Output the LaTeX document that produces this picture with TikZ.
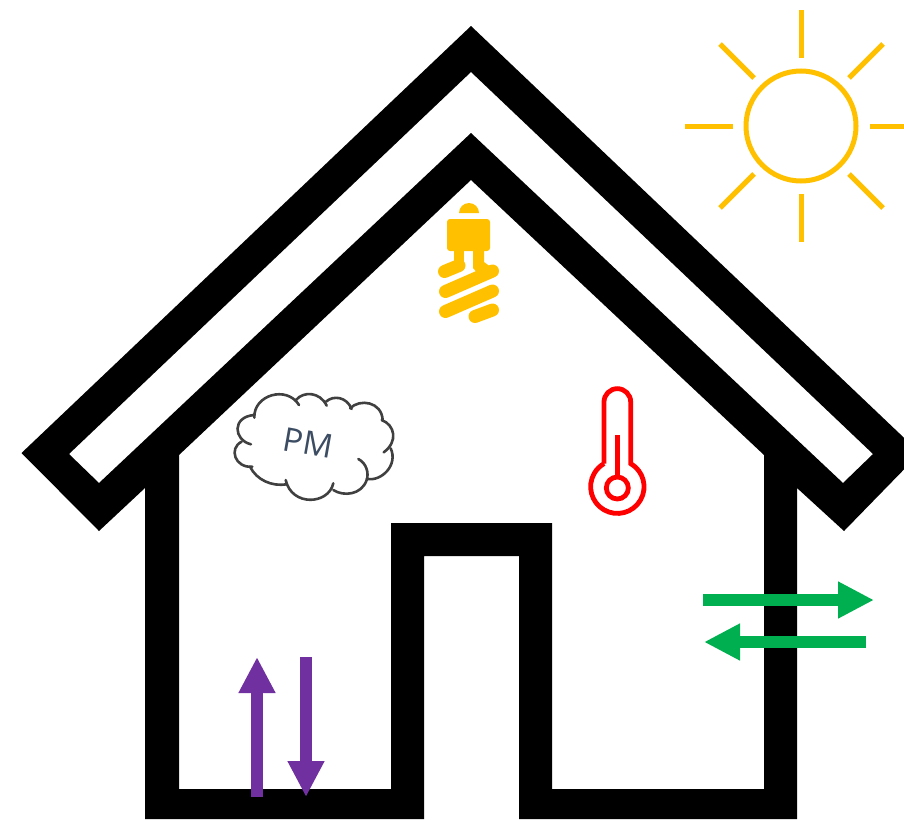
\documentclass[tikz,border=0pt]{standalone}
\usepackage{fontspec}
\setsansfont{Open Sans}
\usetikzlibrary{arrows.meta}
\definecolor{hssun}   {HTML}{FFC000}
\definecolor{hsflow}  {HTML}{00B050}
\definecolor{hsvent}  {HTML}{7030A0}
\definecolor{hstemp}  {HTML}{FF0000}
\definecolor{hscloud} {HTML}{404040}
\definecolor{hstext}  {HTML}{3C4C62}
\tikzset{
  hsray/.style={draw=hssun, line width=5pt},
  hscoil/.style={draw=hssun, line width=13pt, line cap=round},
  hstherm/.style={draw=hstemp, line width=4.8pt},
  hspuff/.style={draw=hscloud, line width=2.6pt, line cap=round},
  hsgreen/.style={-{Triangle[length=36pt,width=34.5pt]}, draw=hsflow, fill=hsflow, line width=12pt},
  hspurple/.style={-{Triangle[length=36pt,width=34.5pt]}, draw=hsvent, fill=hsvent, line width=12pt},
  hslabel/.style={font=\sffamily\fontsize{33}{33}\selectfont, text=hstext, inner sep=0pt},
}
\begin{document}
\begin{tikzpicture}[x=1pt,y=-1pt]
  \useasboundingbox (0,0) rectangle (904,819);
  \clip (0,0) rectangle (904,819);

  % house
  \fill[black,even odd rule]
    (471,26) -- (920,453) -- (844,531) -- (797,488) -- (797,819) -- (519,819)
      -- (519,556) -- (424,556) -- (424,819) -- (145,819) -- (145,488)
      -- (99,531) -- (21.5,453) -- cycle
    (471,72) -- (873,454) -- (843,483) -- (471,133) -- (99,483) -- (69,454) -- cycle
    (471,180) -- (764,455) -- (764,789) -- (552,789) -- (552,523) -- (391,523)
      -- (391,789) -- (179,789) -- (179,455) -- cycle;

  % sun
  \draw[hsray] (801,126) circle (55);
  \foreach \xa/\ya/\xb/\yb in {801/10/801/58, 801/194/801/242, 685/126/733/126, 870/126/904/126,
                               720/44/754/78, 883/44/849/78, 720/208/754/174, 883/208/849/174}
    \draw[hsray] (\xa,\ya) -- (\xb,\yb);

  % bulb
  \fill[hssun] (459,213) arc[start angle=180,end angle=360,radius=10] -- cycle;
  \fill[hssun,rounded corners=3pt] (447,219) rectangle (490,251);
  \fill[hssun] (454,250) rectangle (464,268);
  \fill[hssun] (473,250) -- (484,250) -- (484,262) -- (492,268) -- (480,276) -- (473,268) -- cycle;
  \foreach \xa/\ya/\xb/\yb in {444.5/271.5/459/265.5, 445.5/291.5/492.5/271,
                               445.5/311.5/492.5/291, 475/316.5/492.5/310}
    \draw[hscoil] (\xa,\ya) -- (\xb,\yb);

  % thermometer
  \draw[hstherm] (604,463.6) -- (604,402) arc[start angle=180,end angle=360,radius=13.35]
    -- (630.7,463.6) arc[start angle=-60,end angle=240,radius=26.7];
  \draw[hstherm] (617.3,488) circle (11);
  \draw[hstherm] (617.3,435) -- (617.3,477);

  % cloud
  \begin{scope}[shift={(225,385)},scale=1/3]
    \draw[hspuff] (78,178) .. controls (25,165) and (20,95) .. (88,90);
    \draw[hspuff] (88,98) .. controls (85,30) and (185,0) .. (222,60);
    \draw[hspuff] (213,45) .. controls (235,18) and (285,20) .. (305,62);
    \draw[hspuff] (303,50) .. controls (325,30) and (365,35) .. (380,72);
    \draw[hspuff] (375,70) .. controls (405,40) and (470,50) .. (473,105);
    \draw[hspuff] (470,105) .. controls (510,120) and (520,170) .. (476,202);
    \draw[hspuff] (497,190) .. controls (520,240) and (470,290) .. (425,282);
    \draw[hspuff] (400,222) .. controls (425,235) and (432,265) .. (425,285)
      .. controls (410,330) and (355,335) .. (325,315);
    \draw[hspuff] (325,295) .. controls (310,360) and (200,365) .. (182,285);
    \draw[hspuff] (185,298) .. controls (140,305) and (95,285) .. (75,245);
    \draw[hspuff] (82,245) .. controls (30,250) and (10,190) .. (50,170);
  \end{scope}
  \node[hslabel,rotate=-10] (pmlabel) at (308,443) {PM};

  % air exchange
  \draw[hsgreen] (703,600) -- (874,600);
  \draw[hsgreen] (866,642) -- (704,642);
  \draw[hspurple] (257,797) -- (257,657);
  \draw[hspurple] (306,657) -- (306,797);
\end{tikzpicture}
\end{document}
